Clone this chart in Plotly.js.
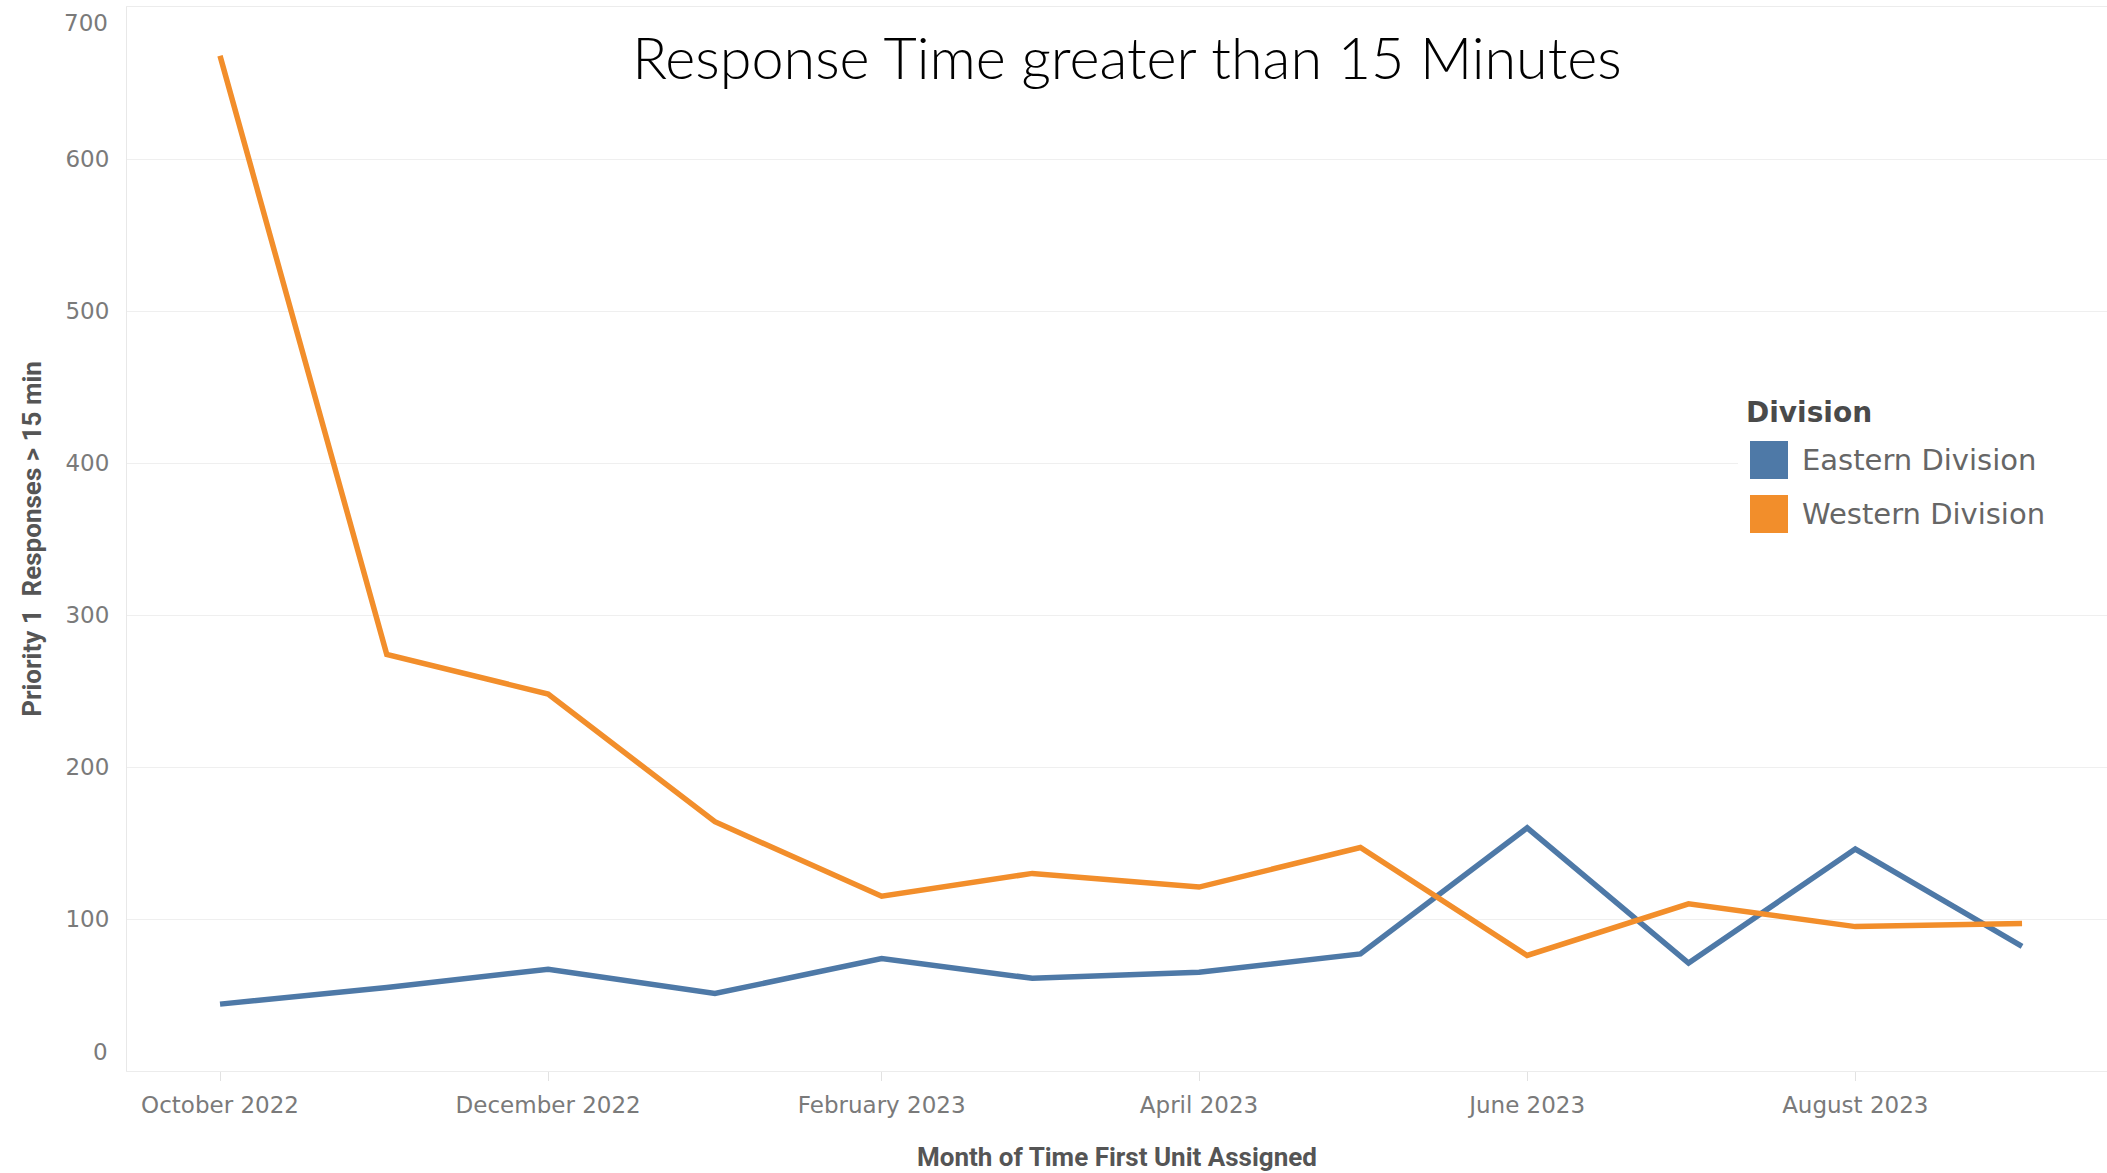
<!DOCTYPE html>
<html>
<head>
<meta charset="utf-8">
<script src="https://cdn.plot.ly/plotly-3.0.1.min.js"></script>
<style>
  html, body { margin: 0; padding: 0; background: #ffffff; }
  #chart { width: 2107px; height: 1173px; }
</style>
</head>
<body>
<div id="chart"></div>
<script>
// ---- Data ----
const months = ['2022-10-01','2022-11-01','2022-12-01','2023-01-01','2023-02-01','2023-03-01',
                '2023-04-01','2023-05-01','2023-06-01','2023-07-01','2023-08-01','2023-09-01'];
const divisions = ['Eastern Division', 'Western Division'];
const easternValues = [44, 55, 67, 51, 74, 61, 65, 77, 160, 71, 146, 82];
const westernValues = [668, 274, 248, 164, 115, 130, 121, 147, 76, 110, 95, 97];
const xTickVals = ['2022-10-01','2022-12-01','2023-02-01','2023-04-01','2023-06-01','2023-08-01'];
const xTickText = ['October 2022','December 2022','February 2023','April 2023','June 2023','August 2023'];
const yTickVals = [0, 100, 200, 300, 400, 500, 600, 700];
const chartTitle = 'Response Time greater than 15 Minutes';
const xTitle = 'Month of Time First Unit Assigned';
const yTitle = 'Priority 1  Responses > 15 min';
const legendTitle = 'Division';

// ---- Styling ----
const colors = ['#4e79a7', '#f28e2b'];
const W = 2107, H = 1173;
const M = { l: 127, r: 0, t: 7, b: 102 };
const plotW = W - M.l - M.r, plotH = H - M.t - M.b;
const px2x = px => (px - M.l) / plotW;
const px2y = py => (H - M.b - py) / plotH;

const tickFont = { family: 'DejaVu Sans', size: 23, color: '#7a7a7a' };
const axisTitleFont = { family: 'Liberation Sans Narrow, Roboto, Lato', size: 26, color: '#555555', weight: 'bold' };

const seriesValues = [easternValues, westernValues];
const traces = divisions.map((name, i) => ({
  type: 'scatter',
  mode: 'lines',
  name: name,
  x: months,
  y: seriesValues[i],
  line: { color: colors[i], width: 5.5 },
  showlegend: false,
  hoverinfo: 'x+y+name'
}));

// y tick labels: the end labels are nudged inward (as Tableau does), drawn as annotations at the tick values
const yMin = yTickVals[0], yMax = yTickVals[yTickVals.length - 1];
const yTickText = yTickVals.map(v => (v === yMin || v === yMax) ? '' : String(v));

const shapes = [];
const annotations = [];
[[yMin, 19], [yMax, -16]].forEach(([v, shift]) => {
  annotations.push({
    xref: 'paper', yref: 'y', x: 0, y: v, xanchor: 'right', yanchor: 'middle',
    xshift: -17, yshift: shift, showarrow: false, text: String(v), font: tickFont
  });
});

// Legend (Tableau-style square swatches)
shapes.push({
  type: 'rect', xref: 'paper', yref: 'paper', layer: 'above',
  x0: px2x(1738), x1: px2x(2107), y0: px2y(545), y1: px2y(385),
  fillcolor: '#ffffff', line: { width: 0 }
});
annotations.push({
  xref: 'paper', yref: 'paper', x: px2x(1744), y: px2y(413),
  xanchor: 'left', yanchor: 'middle', showarrow: false,
  text: '<b>' + legendTitle + '</b>',
  font: { family: 'DejaVu Sans', size: 28, color: '#4a4a4a' }
});
const itemCenters = [460, 514];
divisions.forEach((name, i) => {
  const cy = itemCenters[i];
  shapes.push({
    type: 'rect', xref: 'paper', yref: 'paper', layer: 'above',
    x0: px2x(1750), x1: px2x(1788), y0: px2y(cy + 19), y1: px2y(cy - 19),
    fillcolor: colors[i], line: { width: 0 }
  });
  annotations.push({
    xref: 'paper', yref: 'paper', x: px2x(1800), y: px2y(cy),
    xanchor: 'left', yanchor: 'middle', showarrow: false,
    text: name,
    font: { family: 'DejaVu Sans', size: 29, color: '#666666' }
  });
});

const layout = {
  width: W, height: H,
  margin: { l: M.l, r: M.r, t: M.t, b: M.b, pad: 0 },
  paper_bgcolor: '#ffffff',
  plot_bgcolor: '#ffffff',
  showlegend: false,
  title: {
    text: chartTitle,
    font: { family: 'Lato', weight: 300, size: 57.5, color: '#000000' },
    xref: 'container', yref: 'container',
    x: 1127 / W, xanchor: 'center',
    y: 1 - 59 / H, yanchor: 'middle'
  },
  xaxis: {
    type: 'date',
    range: ['2022-09-13 17:00', '2023-09-16 19:00'],
    tickmode: 'array',
    tickvals: xTickVals,
    ticktext: xTickText,
    ticks: 'outside', ticklen: 9, tickwidth: 1, tickcolor: '#e2e2e2',
    tickfont: tickFont,
    ticklabelstandoff: 4,
    showgrid: false, zeroline: false,
    showline: true, mirror: true, linecolor: '#ececec', linewidth: 1,
    title: { text: xTitle, font: axisTitleFont, standoff: 31 },
    automargin: false,
    fixedrange: true
  },
  yaxis: {
    range: [yMin, yMax],
    tickmode: 'array',
    tickvals: yTickVals,
    ticktext: yTickText,
    ticks: '',
    tickfont: tickFont,
    ticklabelstandoff: 12,
    showgrid: true, gridcolor: '#efefef', gridwidth: 1,
    zeroline: false,
    showline: true, linecolor: '#e8e8e8', linewidth: 1,
    title: { text: yTitle, font: axisTitleFont, standoff: 16 },
    automargin: false,
    fixedrange: true
  },
  shapes: shapes,
  annotations: annotations
};

Plotly.newPlot('chart', traces, layout, { displayModeBar: false, staticPlot: true });
</script>
</body>
</html>
